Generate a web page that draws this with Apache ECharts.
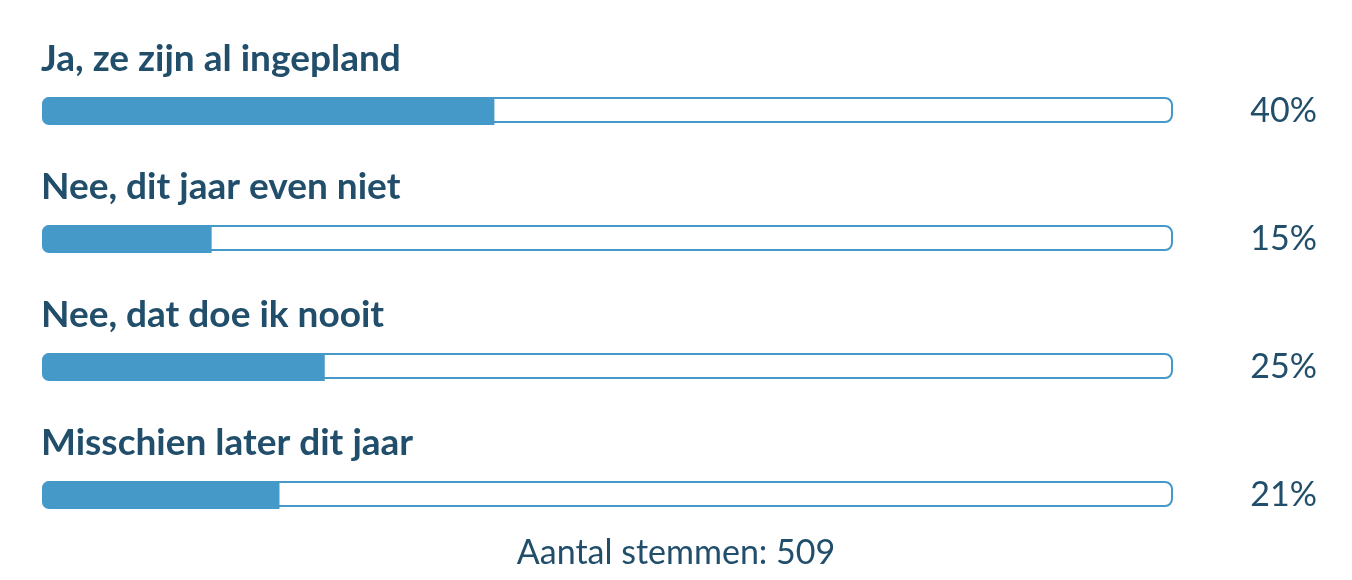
<!DOCTYPE html>
<html>
<head>
<meta charset="utf-8">
<script src="https://cdn.jsdelivr.net/npm/echarts@6/dist/echarts.min.js"></script>
<style>
  html,body{margin:0;padding:0;background:#fff;}
  #chart{width:1352px;height:580px;}
</style>
</head>
<body>
<div id="chart"></div>
<script>
var categories = ['Ja, ze zijn al ingepland', 'Nee, dit jaar even niet', 'Nee, dat doe ik nooit', 'Misschien later dit jaar'];
var percents = [40, 15, 25, 21];
var totalVotes = 509;

var textColor = '#214e6a';
var blue = '#4499c9';
var fontName = 'Lato';

var myChart = echarts.init(document.getElementById('chart'));
var option = {
  animation: false,
  grid: { left: 42, right: 179, top: 47, bottom: 21 },
  xAxis: { type: 'value', min: 0, max: 100, show: false },
  yAxis: [
    { type: 'category', data: categories, inverse: true, show: false },
    {
      type: 'category', data: percents.map(function (p) { return p + '%'; }),
      inverse: true, position: 'right',
      axisLine: { show: false }, axisTick: { show: false },
      axisLabel: { align: 'right', margin: 144, fontFamily: fontName, fontSize: 34, color: textColor }
    }
  ],
  title: {
    text: 'Aantal stemmen: ' + totalVotes,
    left: 'center', top: 531,
    textStyle: { fontFamily: fontName, fontSize: 34, fontWeight: 'normal', color: textColor }
  },
  series: [
    {
      type: 'bar', data: categories.map(function () { return 100; }),
      barWidth: 26, barGap: '-100%', silent: true,
      itemStyle: { color: '#fff', borderColor: blue, borderWidth: 2, borderRadius: 7 },
      label: {
        show: true, position: [-1, -38], verticalAlign: 'middle', align: 'left',
        formatter: function (p) { return p.name; },
        fontFamily: fontName, fontSize: 37, fontWeight: 'bold', color: textColor
      }
    },
    {
      type: 'bar', data: percents,
      barWidth: 28, barGap: '-100%', silent: true,
      itemStyle: { color: blue, borderRadius: [7, 0, 0, 7] }
    }
  ]
};
myChart.setOption(option);
</script>
</body>
</html>
